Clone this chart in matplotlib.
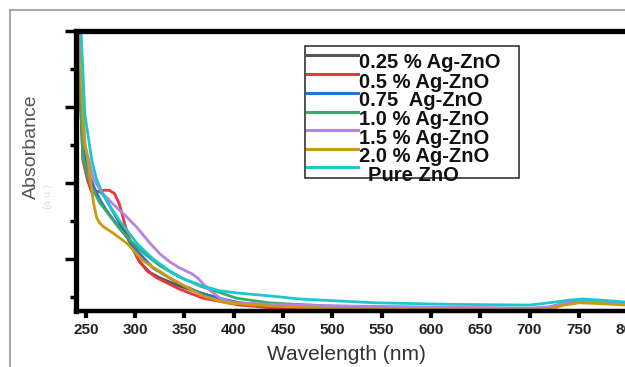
import matplotlib
matplotlib.use("Agg")
import matplotlib.pyplot as plt
from matplotlib.patches import Rectangle
from matplotlib.lines import Line2D

plt.rcParams['font.family'] = ['Liberation Sans', 'DejaVu Sans']

# UV-vis absorbance curves (wavelength nm, absorbance a.u.)
wl_black = [240, 247, 252, 256, 260, 264, 269, 274, 282, 290, 298, 305, 315, 325, 345, 366, 385, 406, 437, 500, 600, 700, 720, 735, 750, 770, 800]
ab_black = [2.30, 1.16, 1.02, 0.95, 0.94, 0.945, 0.91, 0.85, 0.76, 0.67, 0.56, 0.474, 0.41, 0.374, 0.32, 0.275, 0.24, 0.21, 0.195, 0.18, 0.172, 0.17, 0.178, 0.205, 0.22, 0.215, 0.205]

wl_red = [240, 247, 252, 256, 260, 264, 269, 274, 279, 284, 289, 293, 302, 312, 322, 345, 369, 406, 437, 500, 600, 700, 720, 735, 750, 770, 800]
ab_red = [2.30, 1.149, 1.01, 0.937, 0.935, 0.944, 0.952, 0.95, 0.93, 0.86, 0.74, 0.652, 0.507, 0.42, 0.374, 0.30, 0.24, 0.195, 0.178, 0.175, 0.17, 0.168, 0.176, 0.203, 0.218, 0.213, 0.203]

wl_blue = [241, 248, 254, 259, 265, 271, 284, 302, 318, 345, 369, 403, 437, 500, 600, 700, 720, 735, 750, 770, 800]
ab_blue = [2.30, 1.20, 1.04, 0.96, 0.88, 0.818, 0.705, 0.553, 0.44, 0.334, 0.268, 0.209, 0.19, 0.18, 0.173, 0.17, 0.178, 0.205, 0.22, 0.215, 0.205]

wl_green = [240, 247, 252, 256, 264, 274, 284, 295, 310, 325, 345, 366, 403, 437, 500, 600, 700, 720, 735, 750, 770, 800]
ab_green = [2.30, 1.17, 1.04, 0.97, 0.87, 0.785, 0.70, 0.62, 0.53, 0.454, 0.38, 0.32, 0.24, 0.209, 0.188, 0.178, 0.172, 0.18, 0.207, 0.222, 0.217, 0.207]

wl_purple = [242, 249, 258, 267, 277, 290, 302, 314, 325, 335, 345, 358, 364, 369, 378, 386, 395, 403, 437, 500, 600, 700, 720, 735, 750, 770, 800]
ab_purple = [2.30, 1.25, 1.02, 0.93, 0.864, 0.785, 0.705, 0.61, 0.533, 0.48, 0.44, 0.40, 0.37, 0.334, 0.28, 0.242, 0.22, 0.209, 0.20, 0.19, 0.182, 0.175, 0.183, 0.21, 0.225, 0.22, 0.21]

wl_gold = [241, 248, 252, 255, 258, 261, 264, 268, 277, 292, 308, 335, 369, 393, 437, 500, 600, 700, 720, 735, 750, 770, 800]
ab_gold = [2.30, 1.30, 1.149, 1.00, 0.86, 0.77, 0.735, 0.71, 0.672, 0.60, 0.487, 0.374, 0.255, 0.209, 0.189, 0.172, 0.165, 0.162, 0.168, 0.195, 0.21, 0.205, 0.195]

wl_cyan = [243, 249, 256, 261, 267, 275, 284, 302, 318, 335, 350, 369, 385, 403, 437, 467, 543, 619, 700, 720, 741, 754, 771, 800]
ab_cyan = [2.30, 1.45, 1.149, 1.02, 0.93, 0.84, 0.752, 0.60, 0.50, 0.42, 0.365, 0.32, 0.29, 0.275, 0.255, 0.235, 0.21, 0.20, 0.195, 0.21, 0.228, 0.235, 0.228, 0.214]

labels = ["0.25 % Ag-ZnO", "0.5 % Ag-ZnO", "0.75  Ag-ZnO", "1.0 % Ag-ZnO",
          "1.5 % Ag-ZnO", "2.0 % Ag-ZnO", "Pure ZnO"]
colors = ["#555555", "#e8383d", "#2272e0", "#3aaa6a", "#b583e3", "#cc9a10", "#1cc8d0"]
xticks = [250, 300, 350, 400, 450, 500, 550, 600, 650, 700, 750, 800]

series = [(wl_black, ab_black), (wl_red, ab_red), (wl_blue, ab_blue), (wl_green, ab_green),
          (wl_purple, ab_purple), (wl_gold, ab_gold), (wl_cyan, ab_cyan)]

W, H = 625, 367
fig = plt.figure(figsize=(6.25, 3.67), dpi=100)

def fx(px):
    return px / W

def fy(py):
    return 1 - py / H

# grey outer frame, cut by the screenshot
fig.add_artist(Line2D([fx(10), fx(10)], [fy(10), 0], transform=fig.transFigure, color="#999999", lw=1.2))
fig.add_artist(Line2D([fx(10), 1], [fy(10), fy(10)], transform=fig.transFigure, color="#999999", lw=1.2))

ax = fig.add_axes([fx(76), fy(311), fx(638) - fx(76), fy(31) - fy(311)])
for (x, y), c in zip(series, colors):
    ax.plot(x, y, color=c, lw=2.0, solid_capstyle="round", solid_joinstyle="round")

ax.set_xlim(240, 810)
ax.set_ylim(0.156, 2.0)
ax.set_xticks(xticks)
ax.set_yticks([0.5, 1.0, 1.5, 2.0])
ax.set_yticks([0.25, 0.75, 1.25, 1.75], minor=True)
ax.set_yticklabels([])
ax.tick_params(axis="x", direction="out", length=5, width=3, labelsize=11, pad=4)
ax.tick_params(axis="y", which="major", direction="out", length=8, width=2.5)
ax.tick_params(axis="y", which="minor", direction="out", length=4, width=2.5)
for lab in ax.get_xticklabels():
    lab.set_fontweight("bold")
    lab.set_color("#222222")
ax.spines["left"].set_linewidth(3.8)
ax.spines["top"].set_linewidth(3.8)
ax.spines["bottom"].set_linewidth(3.2)
ax.spines["right"].set_linewidth(3.8)

# axis titles placed where the screenshot shows them (the axes runs past the right edge)
fig.text(fx(346), fy(354), "Wavelength (nm)", fontsize=15, color="#333333",
         ha="center", va="center")
fig.text(fx(31), fy(147), "Absorbance", rotation=90, fontsize=14, color="#555555",
         ha="center", va="center")
fig.text(fx(47), fy(196), "(a.u.)", rotation=90, fontsize=8, color="#e0e0e0",
         ha="center", va="center")

# legend box drawn by hand to keep the text sitting below each line
fig.add_artist(Rectangle((fx(305), fy(178)), fx(519) - fx(305), fy(46) - fy(178),
                         transform=fig.transFigure, fill=True, facecolor="white",
                         edgecolor="#333333", lw=1.2, zorder=5))
line_y = [55, 74, 93, 112, 130, 149, 167]
for i, (lab, c) in enumerate(zip(labels, colors)):
    y = line_y[i]
    fig.add_artist(Line2D([fx(307), fx(358)], [fy(y), fy(y)], transform=fig.transFigure,
                          color=c, lw=2.2, zorder=6))
    tx = 368 if lab == "Pure ZnO" else 359
    fig.text(fx(tx), fy(y + 8), lab, fontsize=14.5, fontweight="bold", color="#111111",
             ha="left", va="center", zorder=7)

fig.savefig("out.png", dpi=100)
